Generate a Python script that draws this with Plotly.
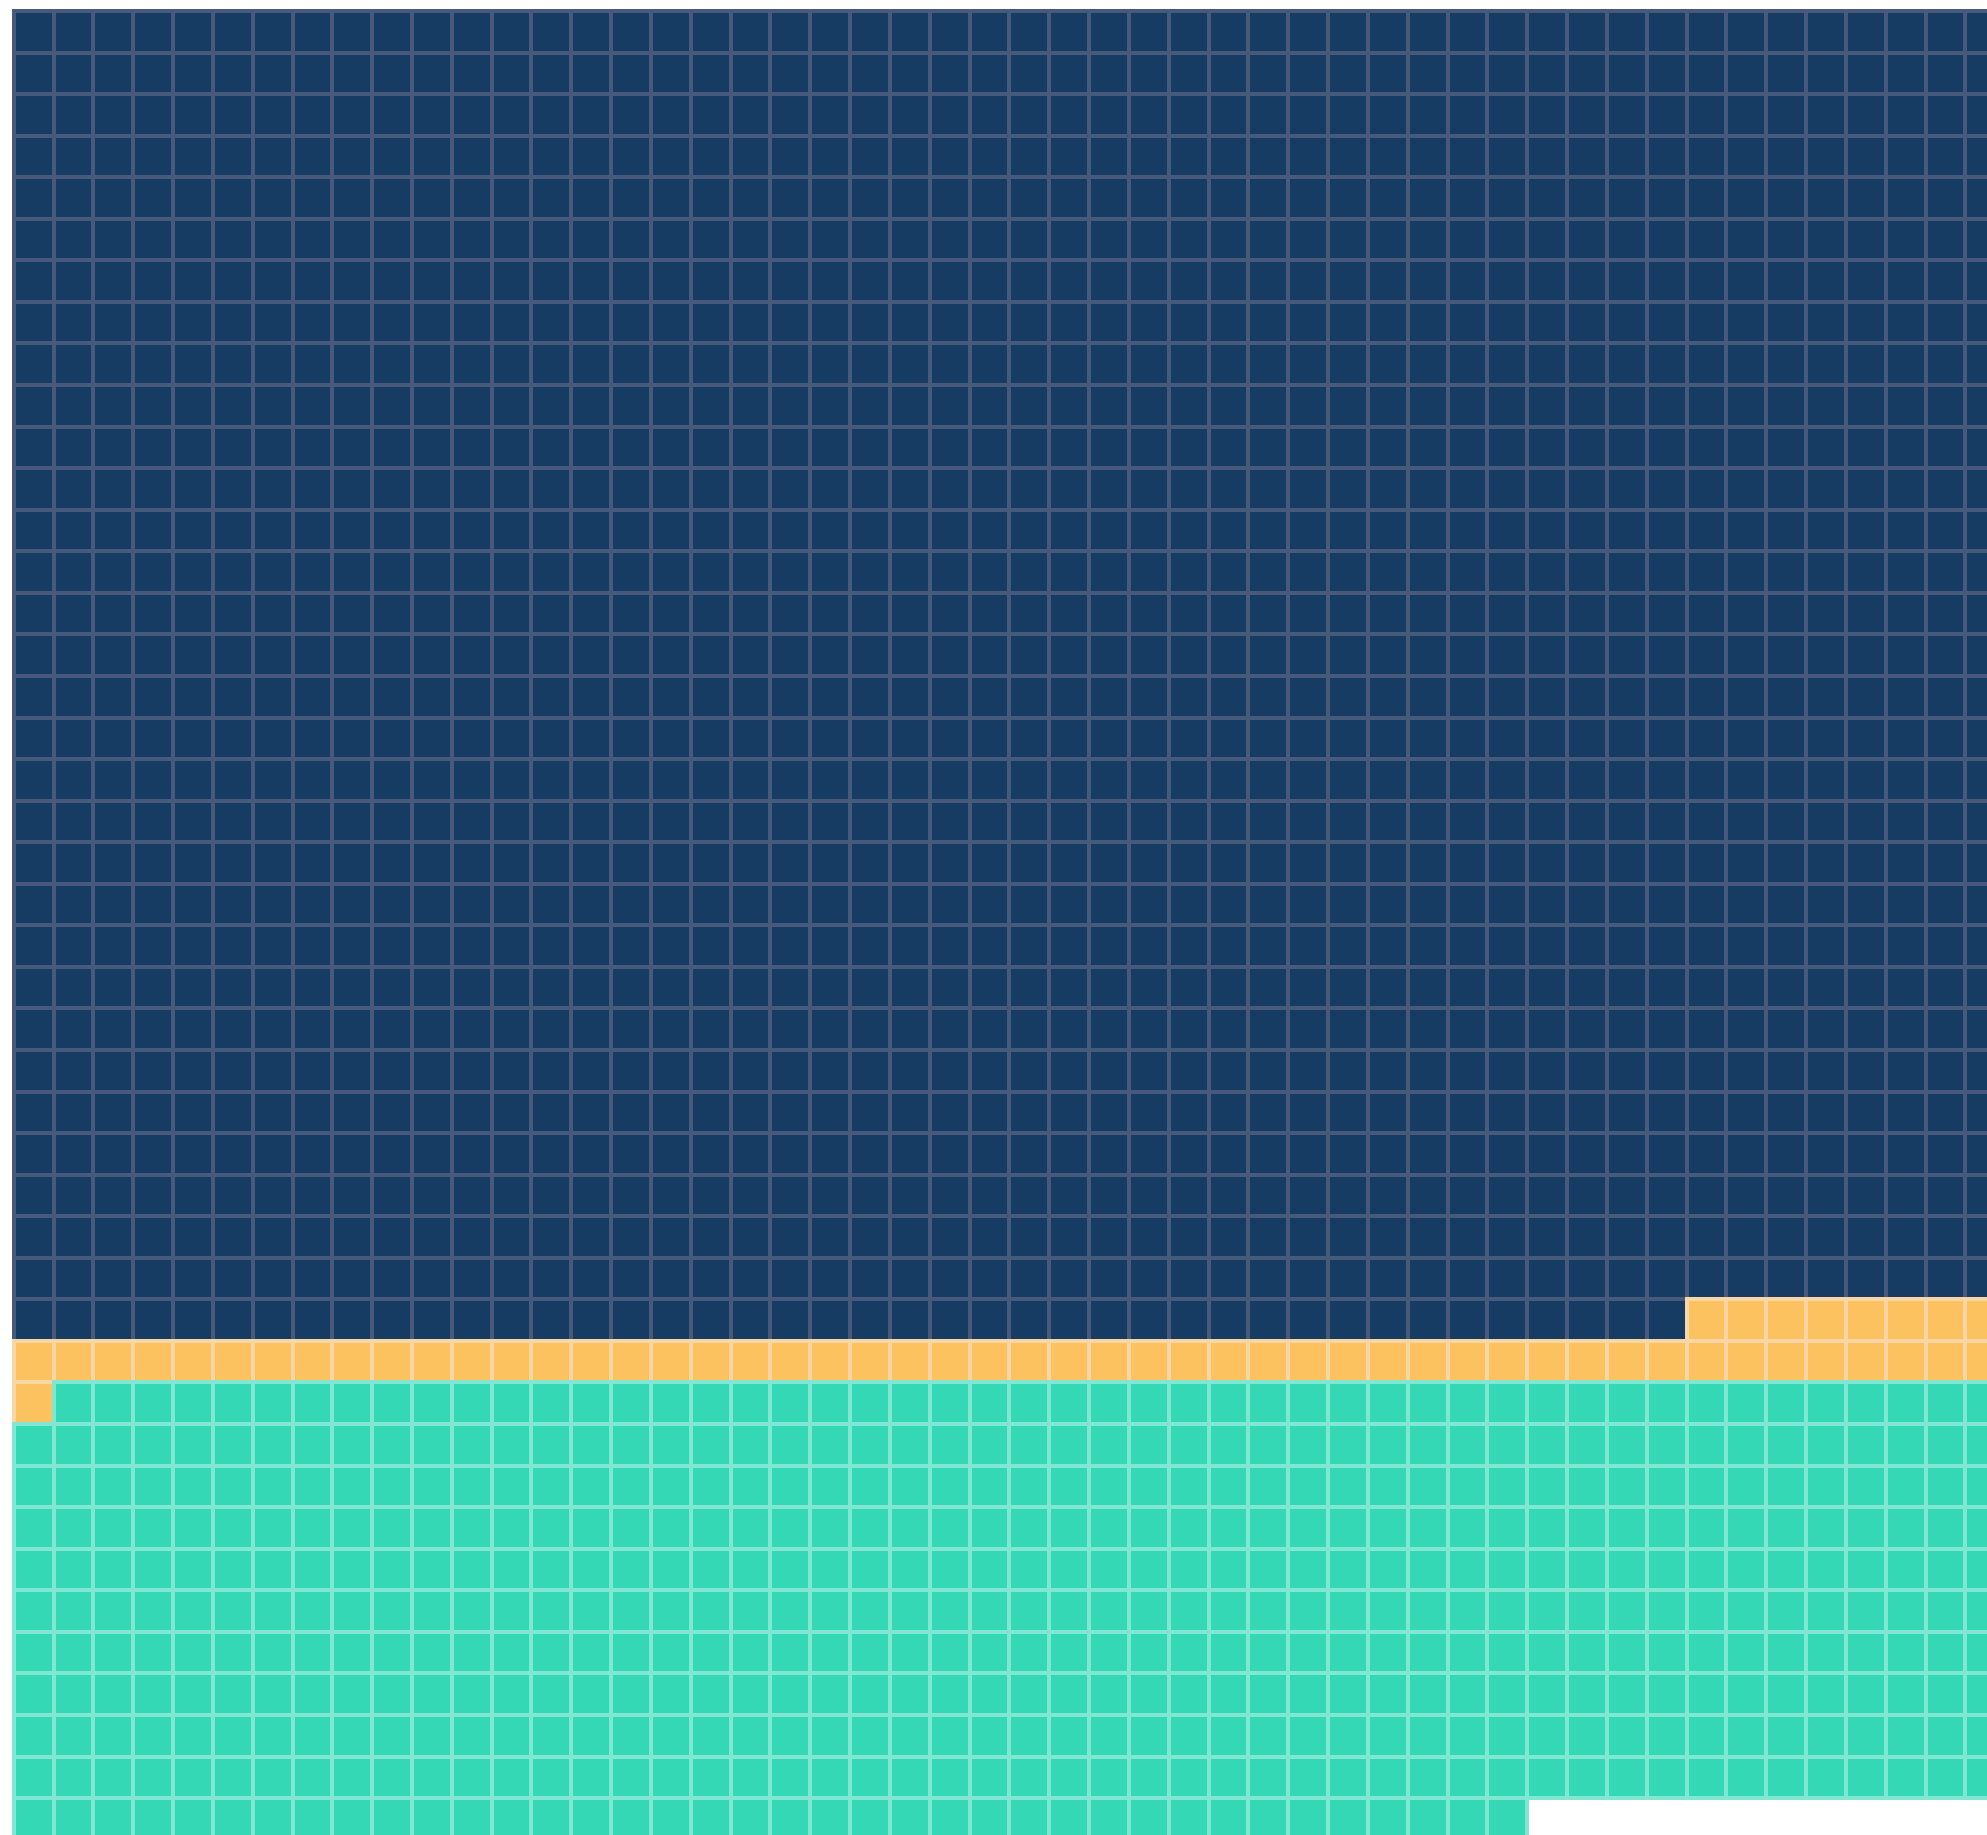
import plotly.graph_objects as go

# Waffle chart data (row-major fill, 50 cells per row, 44 rows)
categories = ["Category A", "Category B", "Category C"]
counts = [1592, 59, 537]
fill_colors = ["#173C63", "#FBC25F", "#34D8B4"]
line_colors = ["#475A7B", "#F8D6A6", "#80E8D2"]
n_cols = 50

fig = go.Figure()
start = 0
for cat, n, fc, lc in zip(categories, counts, fill_colors, line_colors):
    cells = list(range(start, start + n))
    xs = [c % n_cols + 0.5 for c in cells]
    bases = [c // n_cols for c in cells]
    fig.add_trace(go.Bar(
        x=xs, y=[1] * n, base=bases, width=1,
        name=cat, showlegend=False,
        marker=dict(color=fc, line=dict(color=lc, width=4)),
        hovertemplate=cat + "<extra></extra>",
    ))
    start += n

fig.update_layout(
    width=1987, height=1835,
    margin=dict(l=0, r=0, t=0, b=0, pad=0),
    barmode="overlay", bargap=0,
    plot_bgcolor="white", paper_bgcolor="white",
    showlegend=False,
    xaxis=dict(range=[-0.344, 49.543], visible=False, fixedrange=True),
    yaxis=dict(range=[43.888, -0.2647], visible=False, fixedrange=True),
)

fig.write_html(
    "out.html",
    config={"displayModeBar": False},
    post_script="document.body.style.margin='0px';"
                "document.documentElement.style.overflow='hidden';"
                "document.body.style.overflow='hidden';",
)
